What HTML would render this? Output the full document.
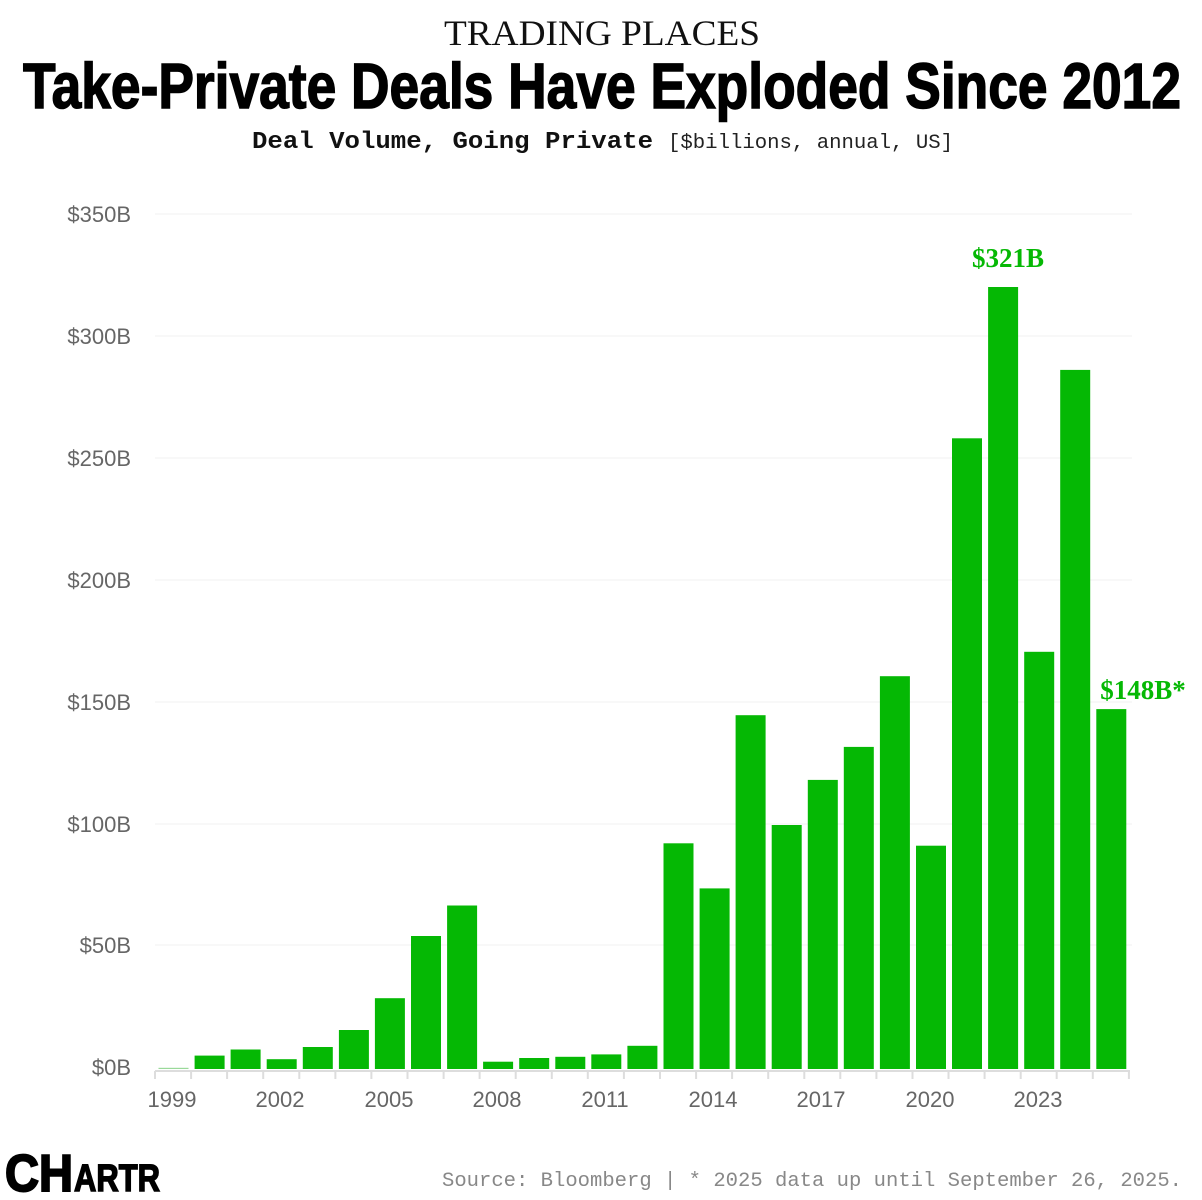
<!DOCTYPE html>
<html><head><meta charset="utf-8"><style>
body{margin:0;background:#fff}
svg{display:block}
</style></head><body>
<svg width="1202" height="1200" viewBox="0 0 1202 1200" xmlns="http://www.w3.org/2000/svg">
<rect width="1202" height="1200" fill="#fff"/>
<text x="602" y="45" text-anchor="middle" font-family="Liberation Serif, serif" font-size="36" fill="#111" textLength="316" lengthAdjust="spacingAndGlyphs">TRADING PLACES</text>
<text x="602" y="108" text-anchor="middle" font-family="Liberation Sans Narrow, Liberation Sans, sans-serif" font-weight="bold" font-size="64" fill="#000" stroke="#000" stroke-width="1.5" textLength="1158" lengthAdjust="spacingAndGlyphs">Take-Private Deals Have Exploded Since 2012</text>
<text x="252" y="148" font-family="Liberation Mono, monospace" font-weight="bold" font-size="24" fill="#111" textLength="401" lengthAdjust="spacingAndGlyphs">Deal Volume, Going Private</text>
<text x="668" y="148" font-family="Liberation Mono, monospace" font-size="20" fill="#222" textLength="285" lengthAdjust="spacingAndGlyphs">[$billions, annual, US]</text>
<g stroke="#f0f0f0" stroke-width="1">
<line x1="155" x2="1132" y1="214" y2="214"/><line x1="155" x2="1132" y1="336" y2="336"/><line x1="155" x2="1132" y1="458" y2="458"/><line x1="155" x2="1132" y1="580" y2="580"/><line x1="155" x2="1132" y1="702" y2="702"/><line x1="155" x2="1132" y1="824" y2="824"/><line x1="155" x2="1132" y1="945" y2="945"/>
</g>
<g font-family="Liberation Sans, sans-serif" font-size="22" fill="#666" text-anchor="end">
<text x="131" y="222">$350B</text><text x="131" y="344">$300B</text><text x="131" y="466">$250B</text><text x="131" y="588">$200B</text><text x="131" y="710">$150B</text><text x="131" y="832">$100B</text><text x="131" y="953">$50B</text><text x="131" y="1075">$0B</text>
</g>
<g fill="#05b804" transform="translate(1.5,0)">
<rect x="157" y="1067.8" width="30" height="1.2" fill="#9ad99a"/>
<rect x="193.1" y="1055.6" width="30" height="13.4"/>
<rect x="229.1" y="1049.5" width="30" height="19.5"/>
<rect x="265.2" y="1059.2" width="30" height="9.8"/>
<rect x="301.3" y="1047" width="30" height="22"/>
<rect x="337.4" y="1030" width="30" height="39"/>
<rect x="373.4" y="998.2" width="30" height="70.8"/>
<rect x="409.5" y="936" width="30" height="133"/>
<rect x="445.6" y="905.5" width="30" height="163.5"/>
<rect x="481.6" y="1061.7" width="30" height="7.3"/>
<rect x="517.7" y="1058" width="30" height="11"/>
<rect x="553.8" y="1056.8" width="30" height="12.2"/>
<rect x="589.8" y="1054.4" width="30" height="14.6"/>
<rect x="625.9" y="1045.8" width="30" height="23.2"/>
<rect x="662" y="843.3" width="30" height="225.7"/>
<rect x="698.1" y="888.4" width="30" height="180.6"/>
<rect x="734.1" y="715.2" width="30" height="353.8"/>
<rect x="770.2" y="825" width="30" height="244"/>
<rect x="806.3" y="779.9" width="30" height="289.1"/>
<rect x="842.3" y="746.9" width="30" height="322.1"/>
<rect x="878.4" y="676.2" width="30" height="392.8"/>
<rect x="914.5" y="845.7" width="30" height="223.3"/>
<rect x="950.5" y="438.3" width="30" height="630.7"/>
<rect x="986.6" y="287" width="30" height="782"/>
<rect x="1022.7" y="651.8" width="30" height="417.2"/>
<rect x="1058.7" y="369.9" width="30" height="699.1"/>
<rect x="1094.8" y="709.1" width="30" height="359.9"/>
</g>
<line x1="155" x2="1130" y1="1071" y2="1071" stroke="#ddd" stroke-width="2"/>
<g stroke="#ddd" stroke-width="2">
<line x1="155" x2="155" y1="1071" y2="1079"/><line x1="191.1" x2="191.1" y1="1071" y2="1079"/><line x1="227.1" x2="227.1" y1="1071" y2="1079"/><line x1="263.2" x2="263.2" y1="1071" y2="1079"/><line x1="299.3" x2="299.3" y1="1071" y2="1079"/><line x1="335.4" x2="335.4" y1="1071" y2="1079"/><line x1="371.4" x2="371.4" y1="1071" y2="1079"/><line x1="407.5" x2="407.5" y1="1071" y2="1079"/><line x1="443.6" x2="443.6" y1="1071" y2="1079"/><line x1="479.6" x2="479.6" y1="1071" y2="1079"/><line x1="515.7" x2="515.7" y1="1071" y2="1079"/><line x1="551.8" x2="551.8" y1="1071" y2="1079"/><line x1="587.8" x2="587.8" y1="1071" y2="1079"/><line x1="623.9" x2="623.9" y1="1071" y2="1079"/><line x1="660" x2="660" y1="1071" y2="1079"/><line x1="696.1" x2="696.1" y1="1071" y2="1079"/><line x1="732.1" x2="732.1" y1="1071" y2="1079"/><line x1="768.2" x2="768.2" y1="1071" y2="1079"/><line x1="804.3" x2="804.3" y1="1071" y2="1079"/><line x1="840.3" x2="840.3" y1="1071" y2="1079"/><line x1="876.4" x2="876.4" y1="1071" y2="1079"/><line x1="912.5" x2="912.5" y1="1071" y2="1079"/><line x1="948.5" x2="948.5" y1="1071" y2="1079"/><line x1="984.6" x2="984.6" y1="1071" y2="1079"/><line x1="1020.7" x2="1020.7" y1="1071" y2="1079"/><line x1="1056.7" x2="1056.7" y1="1071" y2="1079"/><line x1="1092.8" x2="1092.8" y1="1071" y2="1079"/><line x1="1128.9" x2="1128.9" y1="1071" y2="1079"/>
</g>
<g font-family="Liberation Sans, sans-serif" font-size="22" fill="#666" text-anchor="middle">
<text x="172" y="1107">1999</text><text x="280" y="1107">2002</text><text x="389" y="1107">2005</text><text x="497" y="1107">2008</text><text x="605" y="1107">2011</text><text x="713" y="1107">2014</text><text x="821" y="1107">2017</text><text x="930" y="1107">2020</text><text x="1038" y="1107">2023</text>
</g>
<text x="1008" y="267" text-anchor="middle" font-family="Liberation Serif, serif" font-weight="bold" font-size="27" fill="#05b804">$321B</text>
<text x="1143" y="699" text-anchor="middle" font-family="Liberation Serif, serif" font-weight="bold" font-size="27" fill="#05b804">$148B*</text>
<text x="5" y="1191" font-family="Liberation Sans Narrow, Liberation Sans, sans-serif" font-weight="bold" font-size="52" fill="#000" stroke="#000" stroke-width="2" textLength="68" lengthAdjust="spacingAndGlyphs">CH</text>
<text x="74" y="1191" font-family="Liberation Sans Narrow, Liberation Sans, sans-serif" font-weight="bold" font-size="38" fill="#000" stroke="#000" stroke-width="1.5" textLength="86" lengthAdjust="spacingAndGlyphs">ARTR</text>
<text x="1182" y="1186" text-anchor="end" font-family="Liberation Mono, monospace" font-size="20" fill="#888" textLength="740" lengthAdjust="spacingAndGlyphs">Source: Bloomberg | * 2025 data up until September 26, 2025.</text>
</svg>
</body></html>
